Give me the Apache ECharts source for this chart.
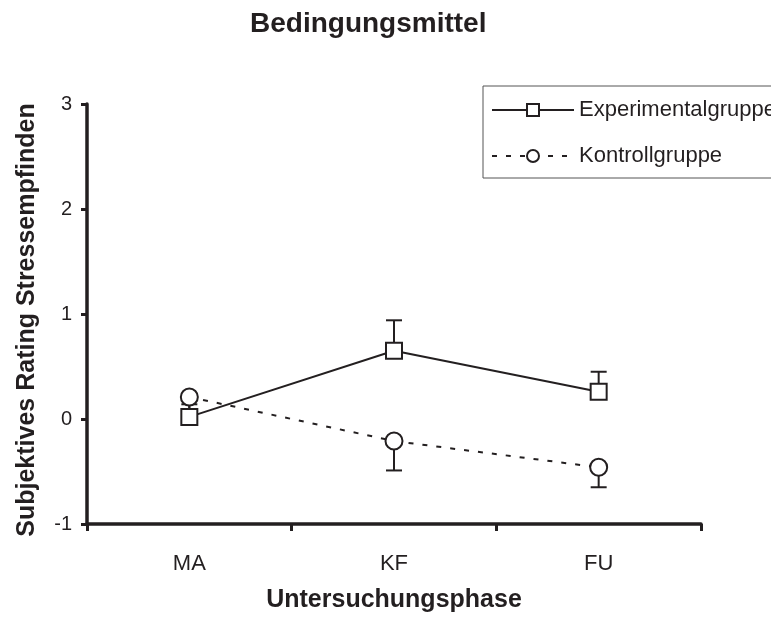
<!DOCTYPE html>
<html>
<head>
<meta charset="utf-8">
<script src="https://cdn.jsdelivr.net/npm/echarts@6/dist/echarts.min.js"></script>
<style>
  html, body { margin: 0; padding: 0; background: #fff; }
  #chart { width: 771px; height: 618px; }
</style>
</head>
<body>
<div id="chart"></div>
<script>
// Untersuchungsphasen
const phases = ['MA', 'KF', 'FU'];

// Mittelwerte je Gruppe
const experimentalMeans = [0.02, 0.65, 0.26];
const kontrollMeans = [0.21, -0.21, -0.46];

// Fehlerbalken (Experimentalgruppe nach oben, Kontrollgruppe nach unten)
const experimentalErr = [0.12, 0.29, 0.19];
const kontrollErr = [0.12, 0.28, 0.19];

const yTicks = [-1, 0, 1, 2, 3];

const INK = '#231f20';
const FONT = '"Liberation Sans", Arial, sans-serif';

function errorBarSeries(name, means, errs, direction) {
  return {
    type: 'custom',
    name: name + ' SE',
    z: 1,
    silent: true,
    data: means.map((m, i) => [i, m, m + direction * errs[i]]),
    renderItem: function (params, api) {
      const base = api.coord([api.value(0), api.value(1)]);
      const end = api.coord([api.value(0), api.value(2)]);
      const cap = 8;
      const style = { stroke: INK, lineWidth: 2 };
      return {
        type: 'group',
        children: [
          { type: 'line', shape: { x1: base[0], y1: base[1], x2: end[0], y2: end[1] }, style: style },
          { type: 'line', shape: { x1: end[0] - cap, y1: end[1], x2: end[0] + cap, y2: end[1] }, style: style }
        ]
      };
    }
  };
}

const chart = echarts.init(document.getElementById('chart'), null, { renderer: 'canvas' });

chart.setOption({
  backgroundColor: '#fff',
  animation: false,
  textStyle: { fontFamily: FONT, color: INK },
  title: {
    text: 'Bedingungsmittel',
    left: 250,
    top: 10,
    padding: 0,
    textStyle: { fontFamily: FONT, fontSize: 28, fontWeight: 'bold', color: INK }
  },
  legend: {
    left: 483,
    top: 86,
    orient: 'vertical',
    itemGap: 24,
    itemWidth: 82,
    itemHeight: 15,
    padding: [13, 12, 11, 8],
    borderColor: '#555',
    borderWidth: 1,
    backgroundColor: '#fff',
    textStyle: { fontFamily: FONT, fontSize: 22, color: INK },
    data: ['Experimentalgruppe', 'Kontrollgruppe']
  },
  grid: { left: 87, right: 70, top: 104, bottom: 94 },
  xAxis: {
    type: 'category',
    data: phases,
    boundaryGap: true,
    name: 'Untersuchungsphase',
    nameLocation: 'middle',
    nameGap: 64,
    nameTextStyle: { fontFamily: FONT, fontSize: 25, fontWeight: 'bold', color: INK },
    axisLine: { onZero: false, lineStyle: { color: INK, width: 3.5 } },
    axisTick: { show: true, length: 7, lineStyle: { color: INK, width: 3 } },
    axisLabel: { fontFamily: FONT, fontSize: 22, color: INK, margin: 29 },
    splitLine: { show: false }
  },
  yAxis: {
    type: 'value',
    min: yTicks[0],
    max: yTicks[yTicks.length - 1],
    interval: 1,
    name: 'Subjektives Rating Stressempfinden',
    nameLocation: 'middle',
    nameGap: 47,
    nameTextStyle: { fontFamily: FONT, fontSize: 25, fontWeight: 'bold', color: INK, padding: [0, 12, 0, 0] },
    axisLine: { show: true, lineStyle: { color: INK, width: 3.5 } },
    axisTick: { show: true, length: 6, lineStyle: { color: INK, width: 3 } },
    axisLabel: { fontFamily: FONT, fontSize: 20, color: INK, margin: 15 },
    splitLine: { show: false }
  },
  series: [
    errorBarSeries('Experimentalgruppe', experimentalMeans, experimentalErr, 1),
    errorBarSeries('Kontrollgruppe', kontrollMeans, kontrollErr, -1),
    {
      name: 'Kontrollgruppe',
      type: 'line',
      z: 3,
      data: kontrollMeans,
      symbol: 'circle',
      symbolSize: 17,
      lineStyle: { color: INK, width: 2, type: [5, 9] },
      itemStyle: { color: '#fff', borderColor: INK, borderWidth: 2 }
    },
    {
      name: 'Experimentalgruppe',
      type: 'line',
      z: 4,
      data: experimentalMeans,
      symbol: 'rect',
      symbolSize: 16,
      lineStyle: { color: INK, width: 2 },
      itemStyle: { color: '#fff', borderColor: INK, borderWidth: 2 }
    }
  ]
});
</script>
</body>
</html>
